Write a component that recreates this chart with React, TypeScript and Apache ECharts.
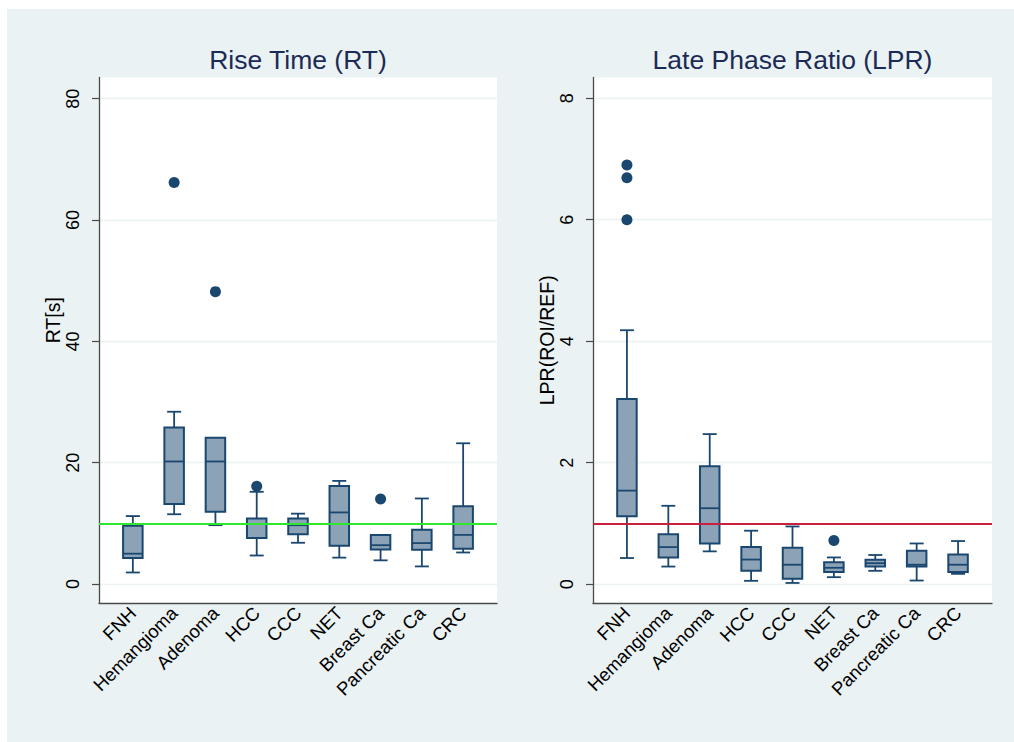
import React, { useEffect, useRef } from "react";
import * as echarts from "echarts";

const categories = ["FNH", "Hemangioma", "Adenoma", "HCC", "CCC", "NET", "Breast Ca", "Pancreatic Ca", "CRC"];

// Rise Time (RT) box statistics, seconds
const rtLow = [1.9, 11.5, 9.7, 4.7, 6.8, 4.35, 3.9, 2.9, 5.2];
const rtQ1 = [4.3, 13.2, 11.9, 7.6, 8.2, 6.3, 5.7, 5.65, 5.8];
const rtMedian = [5.0, 20.2, 20.2, 7.6, 9.7, 11.8, 6.4, 6.75, 8.1];
const rtQ3 = [9.6, 25.8, 24.1, 10.8, 10.8, 16.15, 8.1, 8.95, 12.8];
const rtHigh = [11.2, 28.4, 24.1, 15.2, 11.6, 17.0, 8.1, 14.1, 23.2];
const rtOutlierCat = ["Hemangioma", "Adenoma", "HCC", "Breast Ca"];
const rtOutlierVal = [66.2, 48.2, 16.1, 14.0];
const rtReference = 10;
const rtTicks = [0, 20, 40, 60, 80];

// Late Phase Ratio (LPR) box statistics
const lprLow = [0.43, 0.29, 0.54, 0.055, 0.02, 0.115, 0.22, 0.06, 0.17];
const lprQ1 = [1.12, 0.44, 0.67, 0.22, 0.09, 0.2, 0.29, 0.29, 0.2];
const lprMedian = [1.54, 0.61, 1.25, 0.405, 0.32, 0.27, 0.345, 0.32, 0.32];
const lprQ3 = [3.05, 0.82, 1.94, 0.61, 0.6, 0.36, 0.4, 0.55, 0.49];
const lprHigh = [4.18, 1.29, 2.47, 0.88, 0.95, 0.44, 0.48, 0.67, 0.71];
const lprOutlierCat = ["FNH", "FNH", "FNH", "NET"];
const lprOutlierVal = [6.9, 6.69, 6.0, 0.72];
const lprReference = 1;
const lprTicks = [0, 2, 4, 6, 8];

const NAVY = "#1a476f";
const FILL = "#8ca3b7";
const BG = "#eaf2f3";
const FONT = "'Liberation Sans', Arial, Helvetica, sans-serif";

function boxData(lo: number[], q1: number[], med: number[], q3: number[], hi: number[]) {
  return categories.map((_, i) => [i + 1, lo[i], q1[i], med[i], q3[i], hi[i]]);
}
function outlierData(cats: string[], vals: number[]) {
  return cats.map((c, i) => [categories.indexOf(c) + 1, vals[i]]);
}

const BOX_W = 19.5;
const CAP_W = 14;

function renderBox(params: any, api: any) {
  const x = api.value(0);
  const lo = api.coord([x, api.value(1)]);
  const q1 = api.coord([x, api.value(2)]);
  const md = api.coord([x, api.value(3)]);
  const q3 = api.coord([x, api.value(4)]);
  const hi = api.coord([x, api.value(5)]);
  const cx = lo[0];
  const lineStyle = { stroke: NAVY, lineWidth: 1.8, fill: null };
  const children: any[] = [];
  if (api.value(1) < api.value(2)) {
    children.push({ type: "line", shape: { x1: cx, y1: lo[1], x2: cx, y2: q1[1] }, style: lineStyle });
    children.push({ type: "line", shape: { x1: cx - CAP_W / 2, y1: lo[1], x2: cx + CAP_W / 2, y2: lo[1] }, style: lineStyle });
  }
  if (api.value(5) > api.value(4)) {
    children.push({ type: "line", shape: { x1: cx, y1: hi[1], x2: cx, y2: q3[1] }, style: lineStyle });
    children.push({ type: "line", shape: { x1: cx - CAP_W / 2, y1: hi[1], x2: cx + CAP_W / 2, y2: hi[1] }, style: lineStyle });
  }
  children.push({
    type: "rect",
    shape: { x: cx - BOX_W / 2, y: q3[1], width: BOX_W, height: q1[1] - q3[1] },
    style: { fill: FILL, stroke: NAVY, lineWidth: 2 },
  });
  children.push({ type: "line", shape: { x1: cx - BOX_W / 2, y1: md[1], x2: cx + BOX_W / 2, y2: md[1] }, style: lineStyle });
  return { type: "group", children };
}

function xAxisFor(gridIndex: number) {
  return {
    type: "value",
    gridIndex,
    min: 0.18,
    max: 9.82,
    axisLine: { show: true, onZero: false, lineStyle: { color: "#4a4a4a", width: 1.3 } },
    axisTick: { show: false, customValues: [1, 2, 3, 4, 5, 6, 7, 8, 9] },
    splitLine: { show: false },
    axisLabel: {
      customValues: [1, 2, 3, 4, 5, 6, 7, 8, 9],
      formatter: (v: number) => categories[Math.round(v) - 1] || "",
      rotate: 45,
      margin: 7,
      color: "#000",
      fontSize: 18.5,
      fontFamily: FONT,
    },
  };
}

function yAxisFor(gridIndex: number, min: number, max: number, ticks: number[], name: string, nameGap: number, shiftUp: number) {
  return {
    type: "value",
    gridIndex,
    min,
    max,
    name,
    nameLocation: "middle",
    nameRotate: 90,
    nameGap,
    nameTextStyle: { color: "#000", fontSize: 19.5, fontFamily: FONT, padding: [0, 0, 0, shiftUp * 2] },
    axisLine: { show: true, onZero: false, lineStyle: { color: "#4a4a4a", width: 1.3 } },
    axisTick: { show: true, length: 7, customValues: ticks, lineStyle: { color: "#4a4a4a", width: 1.2 } },
    splitLine: { show: true, lineStyle: { color: BG, width: 1.3 } },
    axisLabel: {
      customValues: ticks,
      rotate: 90,
      margin: 17,
      color: "#000",
      fontSize: 18,
      fontFamily: FONT,
    },
  };
}

export default function App() {
  const ref = useRef<HTMLDivElement>(null);
  useEffect(() => {
    if (!ref.current) return;
    const chart = echarts.init(ref.current, null, { renderer: "svg" });
    const grids = [
      { left: 92, top: 68.5, width: 398, height: 525.5 },
      { left: 586, top: 68.5, width: 399, height: 525.5 },
    ];
    chart.setOption({
      animation: false,
      backgroundColor: BG,
      grid: grids.map((g) => ({ ...g, show: true, backgroundColor: "#ffffff", borderWidth: 0 })),
      xAxis: [xAxisFor(0), xAxisFor(1)],
      yAxis: [
        yAxisFor(0, -3.13, 83.5, rtTicks, "RT[s]", 32, 20),
        yAxisFor(1, -0.31, 8.34, lprTicks, "LPR(ROI/REF)", 36, 0),
      ],
      graphic: [
        {
          type: "text",
          x: grids[0].left + grids[0].width / 2,
          y: 51,
          style: { text: "Rise Time (RT)", font: `26.5px ${FONT}`, fill: "#1c2b55", textAlign: "center", textVerticalAlign: "middle" },
        },
        {
          type: "text",
          x: grids[1].left + grids[1].width / 2,
          y: 51,
          style: { text: "Late Phase Ratio (LPR)", font: `26.5px ${FONT}`, fill: "#1c2b55", textAlign: "center", textVerticalAlign: "middle" },
        },
      ],
      series: [
        {
          type: "line",
          xAxisIndex: 0,
          yAxisIndex: 0,
          data: [],
          z: 1,
          markLine: {
            silent: true,
            symbol: "none",
            label: { show: false },
            lineStyle: { color: "#2ee82e", width: 1.8, type: "solid" },
            data: [{ yAxis: rtReference }],
          },
        },
        {
          type: "line",
          xAxisIndex: 1,
          yAxisIndex: 1,
          data: [],
          z: 1,
          markLine: {
            silent: true,
            symbol: "none",
            label: { show: false },
            lineStyle: { color: "#c8213f", width: 1.8, type: "solid" },
            data: [{ yAxis: lprReference }],
          },
        },
        {
          type: "custom",
          xAxisIndex: 0,
          yAxisIndex: 0,
          z: 3,
          renderItem: renderBox,
          encode: { x: 0, y: [1, 2, 3, 4, 5] },
          data: boxData(rtLow, rtQ1, rtMedian, rtQ3, rtHigh),
        },
        {
          type: "custom",
          xAxisIndex: 1,
          yAxisIndex: 1,
          z: 3,
          renderItem: renderBox,
          encode: { x: 0, y: [1, 2, 3, 4, 5] },
          data: boxData(lprLow, lprQ1, lprMedian, lprQ3, lprHigh),
        },
        {
          type: "scatter",
          xAxisIndex: 0,
          yAxisIndex: 0,
          z: 4,
          symbol: "circle",
          symbolSize: 11,
          itemStyle: { color: NAVY, opacity: 1 },
          data: outlierData(rtOutlierCat, rtOutlierVal),
        },
        {
          type: "scatter",
          xAxisIndex: 1,
          yAxisIndex: 1,
          z: 4,
          symbol: "circle",
          symbolSize: 11,
          itemStyle: { color: NAVY, opacity: 1 },
          data: outlierData(lprOutlierCat, lprOutlierVal),
        },
      ],
    });
    return () => chart.dispose();
  }, []);
  return (
    <div
      ref={ref}
      style={{ position: "absolute", left: 7, top: 9, width: 1007, height: 733 }}
    />
  );
}
